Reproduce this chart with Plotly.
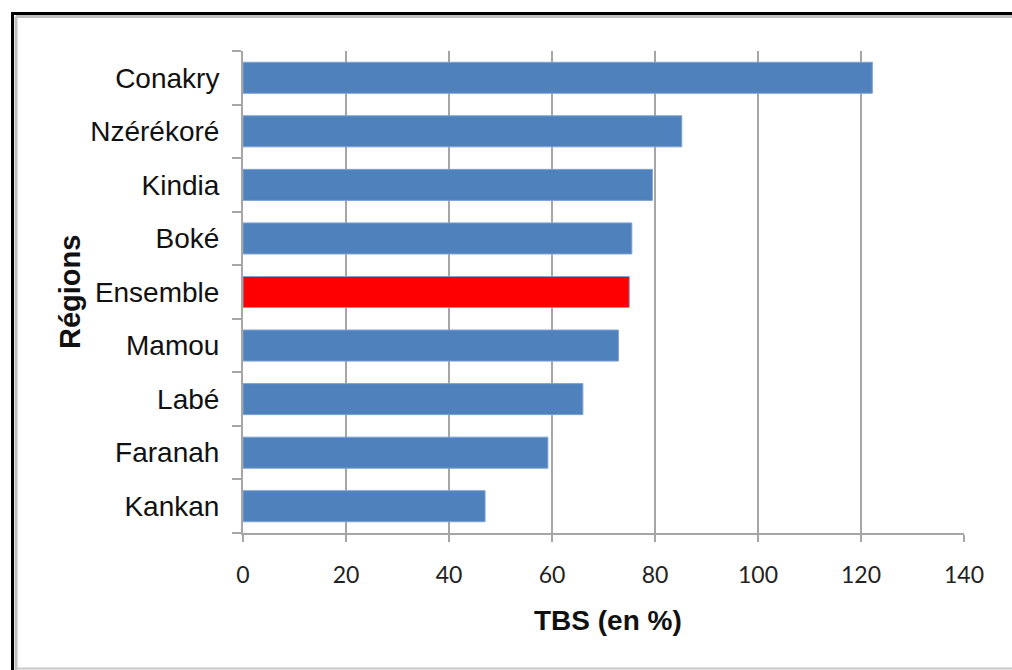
import plotly.graph_objects as go

regions = ["Conakry", "Nzérékoré", "Kindia", "Boké", "Ensemble", "Mamou", "Labé", "Faranah", "Kankan"]
tbs = [122.2, 85.2, 79.5, 75.5, 75.0, 72.9, 66.0, 59.2, 47.0]
x_ticks = [0, 20, 40, 60, 80, 100, 120, 140]

W, H = 1012, 670
L, R, T, B = 243, 964, 51, 533


def px(x):
    return (x - L) / (R - L)


def py(y):
    return (B - y) / (B - T)


colors = ["#FF0000" if r == "Ensemble" else "#4F81BD" for r in regions]

fig = go.Figure(
    go.Bar(
        x=tbs,
        y=regions,
        orientation="h",
        marker=dict(color=colors, line=dict(color="#7FA3D0", width=1)),
        width=0.58,
    )
)

fig.update_layout(
    width=W,
    height=H,
    margin=dict(l=L, r=W - R, t=T, b=H - B),
    paper_bgcolor="white",
    plot_bgcolor="white",
    showlegend=False,
    xaxis=dict(
        range=[0, 140],
        tickvals=x_ticks,
        showgrid=True,
        gridcolor="#A6A6A6",
        gridwidth=2,
        zeroline=False,
        showline=True,
        linecolor="#A6A6A6",
        linewidth=2,
        ticks="outside",
        ticklen=7,
        tickwidth=2,
        tickcolor="#A6A6A6",
        ticklabelstandoff=13,
        tickfont=dict(family="Lato, Carlito, Arial", size=23, color="#222222"),
    ),
    yaxis=dict(
        categoryorder="array",
        categoryarray=regions[::-1],
        showgrid=False,
        zeroline=False,
        showline=True,
        linecolor="#A6A6A6",
        linewidth=2,
        ticks="outside",
        tickson="boundaries",
        ticklen=9,
        tickwidth=2,
        tickcolor="#A6A6A6",
        ticklabelstandoff=16,
        tickfont=dict(family="Arial, Liberation Sans", size=28, color="#111111"),
    ),
)

# axis titles
fig.add_annotation(
    x=px(70), y=py(292), xref="paper", yref="paper",
    text="<b>Régions</b>", textangle=-90, showarrow=False,
    font=dict(family="Arial, Liberation Sans", size=29, color="#111111"),
    xanchor="center", yanchor="middle",
)
fig.add_annotation(
    x=px(608), y=py(620), xref="paper", yref="paper",
    text="<b>TBS (en %)</b>", showarrow=False,
    font=dict(family="Arial, Liberation Sans", size=28, color="#111111"),
    xanchor="center", yanchor="middle",
)

# outer frame: black border with a grey inner line
fig.add_shape(type="rect", xref="paper", yref="paper",
              x0=px(12.5), y0=py(700), x1=px(1040), y1=py(13.5),
              line=dict(color="black", width=3))
fig.add_shape(type="line", xref="paper", yref="paper",
              x0=px(16), y0=py(16.5), x1=px(1040), y1=py(16.5),
              line=dict(color="#C0C0C0", width=3))
fig.add_shape(type="line", xref="paper", yref="paper",
              x0=px(16), y0=py(16.5), x1=px(16), y1=py(700),
              line=dict(color="#C0C0C0", width=3))
fig.add_shape(type="line", xref="paper", yref="paper",
              x0=px(16), y0=py(668.5), x1=px(1040), y1=py(668.5),
              line=dict(color="#C8C8C8", width=2))

fig.write_html("out.html")
